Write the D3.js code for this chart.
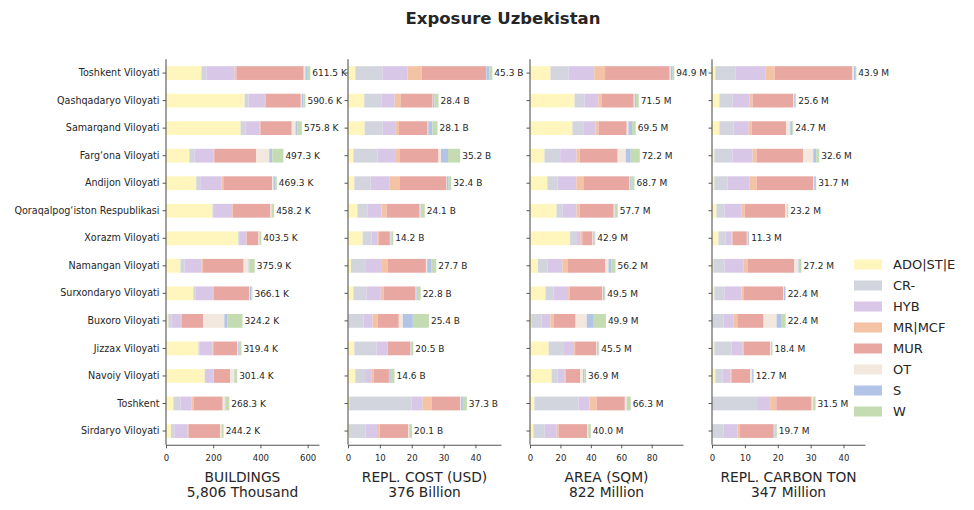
<!DOCTYPE html>
<html><head><meta charset="utf-8">
<script src="https://cdn.jsdelivr.net/npm/d3@7"></script>
<style>
body{margin:0;background:#fff;}
svg{display:block;font-family:"DejaVu Sans",sans-serif;}
</style></head><body>
<svg id="chart" width="974" height="510"></svg>
<script>
const regions = ["Toshkent Viloyati","Qashqadaryo Viloyati","Samarqand Viloyati","Farg\u2018ona Viloyati","Andijon Viloyati","Qoraqalpog\u2018iston Respublikasi","Xorazm Viloyati","Namangan Viloyati","Surxondaryo Viloyati","Buxoro Viloyati","Jizzax Viloyati","Navoiy Viloyati","Toshkent","Sirdaryo Viloyati"];
const categories = ["ADO|ST|E","CR-","HYB","MR|MCF","MUR","OT","S","W"];
const colors = ["#fff6bd","#d2d5dd","#d8c7e7","#f4c2a5","#e8a8a1","#f3e8de","#b2c5e7","#c5dbb2"];

// values per region in category order: ADO|ST|E, CR-, HYB, MR|MCF, MUR, OT, S, W
const buildingsK = [
 [150,21,120,7,285.5,7,10,11],
 [333,17,69,3,149.1,4,7,8.5],
 [316,21,60,3,132.9,16,8.5,18.4],
 [99,21,80.5,4,177.8,55,13,47],
 [128,17,91,7,206.3,6,7,7],
 [197,3,80,3,159.7,4,1.5,10],
 [306,4,30,1.5,50.5,4,1.5,6],
 [61,17,72,7,171.9,21,3,23],
 [116,8.5,74,3,150.6,3,7,4],
 [10,13,40,3,92.2,89,13,64],
 [137,4,56.5,3,101.9,4,3,10],
 [164,1.5,36,1.5,68.5,17,1.5,11.4],
 [31.5,30,47,9,122.8,9,3,16],
 [21,14,56,4,133.7,7,1.5,7]
];
const replCostB = [
 [2.3,8.5,7.9,4.4,20.2,0.1,0.95,0.95],
 [5.1,5.35,4.2,1.8,10.1,0.1,0.5,1.25],
 [5.2,5.7,3.9,1.2,9.0,0.2,1.3,1.6],
 [1.7,7.6,5.5,1.5,12.1,0.8,2.2,3.8],
 [2.0,5.1,6.0,3.2,14.6,0.1,0.6,0.8],
 [2.95,3.15,4.4,1.6,10.4,0.3,0.1,1.2],
 [4.6,2.8,1.8,0.55,3.4,0.2,0.3,0.55],
 [0.95,4.45,5.0,2.1,11.95,0.4,1.25,1.6],
 [1.7,4.1,4.5,0.85,10.1,0.2,0.2,1.15],
 [0.1,4.75,2.85,1.6,6.65,1.25,3.15,5.05],
 [2.0,7.0,3.3,0.2,7.1,0.1,0.3,0.5],
 [2.3,3.05,1.9,0.75,4.85,0.1,0.5,1.15],
 [0.4,19.55,3.45,2.85,8.95,0.2,0.65,1.25],
 [0.3,5.2,3.6,0.85,9.0,0.2,0.1,0.85]
];
const areaM = [
 [13.5,11.95,16.8,7.1,42.5,0.65,1.3,1.1],
 [29.3,6.6,9.0,2.2,21.1,0.65,0.9,1.75],
 [27.9,7.5,7.7,2.0,18.5,1.1,2.4,2.4],
 [9.5,10.35,10.8,2.0,25.0,5.3,3.3,5.95],
 [11.4,6.6,12.5,4.6,30.3,0.45,0.65,2.2],
 [17.4,3.95,9.25,2.0,22.45,0.65,0.65,1.35],
 [26.35,4.0,2.7,1.35,6.7,0.45,0.9,0.45],
 [5.25,6.15,9.9,3.3,25.0,2.0,2.0,2.6],
 [10.2,5.3,9.55,1.1,21.35,0.45,1.1,0.45],
 [0.9,6.6,5.95,2.0,14.55,7.3,4.65,7.95],
 [12.25,10.05,6.7,0.65,14.05,0.45,0.9,0.45],
 [14.2,4.0,4.65,0.65,9.4,2.0,0.9,1.1],
 [2.85,29.1,7.25,4.65,18.5,1.3,0.65,2.0],
 [2.2,7.35,8.0,1.35,18.7,0.65,0.2,1.55]
];
const carbonM = [
 [1.0,6.15,9.2,2.75,23.6,0.5,0.3,0.4],
 [2.25,4.0,5.2,0.9,12.35,0.3,0.3,0.3],
 [2.25,4.3,4.6,0.9,10.5,1.25,0.6,0.3],
 [0.7,5.5,6.15,1.25,14.15,3.05,0.9,0.9],
 [0.7,4.0,6.75,2.15,17.2,0.3,0.5,0.1],
 [1.35,2.45,5.25,0.9,12.35,0.5,0.1,0.3],
 [1.95,2.15,1.85,0.3,4.35,0.2,0.4,0.1],
 [0.4,3.4,5.85,1.25,14.15,1.25,0.4,0.5],
 [0.7,3.05,5.2,0.6,12.05,0.3,0.4,0.1],
 [0.1,3.35,3.05,1.2,8.0,3.95,1.55,1.2],
 [0.7,5.25,3.4,0.3,8.05,0.3,0.3,0.1],
 [1.0,2.15,2.5,0.3,5.65,0.6,0.3,0.2],
 [0.05,13.65,4.0,1.85,10.75,0.5,0.2,0.5],
 [0.1,3.35,4.3,0.6,10.45,0.2,0.2,0.5]
];
const panelTitles = ["BUILDINGS","REPL. COST (USD)","AREA (SQM)","REPL. CARBON TON"];
const valueSuffix = [" K"," B"," M"," M"];
const totalUnits = ["Thousand","Billion","Million","Million"];
const tickValues = [[0,200,400,600],[0,10,20,30,40],[0,20,40,60,80],[0,10,20,30,40]];
const panelData = [buildingsK, replCostB, areaM, carbonM];

const svg = d3.select("#chart");
const textColor = "#262626", spineColor = "#555";
const left0 = 166, panelStep = 182, panelW = 153, plotTop = 59.3, plotH = 385.5;

svg.append("text").attr("x", 503).attr("y", 24).attr("text-anchor","middle")
  .attr("font-size", 16.5).attr("font-weight","bold").attr("fill", textColor).text("Exposure Uzbekistan");

const y = d3.scaleBand().domain(regions).range([0, plotH]).paddingInner(0.5).paddingOuter(0.25);

panelData.forEach((rows, p) => {
  const totals = rows.map(r => d3.sum(r));
  const x = d3.scaleLinear().domain([0, d3.max(totals) * 1.06]).range([0, panelW]);
  const g = svg.append("g").attr("transform", `translate(${left0 + p*panelStep},${plotTop})`);

  const stacked = rows.map((r, i) => {
    let acc = 0;
    return r.map((v, c) => { const s = {region: regions[i], c, x0: acc, x1: acc + v}; acc += v; return s; });
  }).flat();

  g.selectAll("rect.seg").data(stacked).enter().append("rect")
    .attr("x", d => x(d.x0)).attr("width", d => Math.max(0, x(d.x1) - x(d.x0)))
    .attr("y", d => y(d.region)).attr("height", y.bandwidth())
    .attr("fill", d => colors[d.c]);

  g.selectAll("text.val").data(totals).enter().append("text")
    .attr("x", d => x(d) + 2).attr("y", (d, i) => y(regions[i]) + y.bandwidth()/2)
    .attr("dy", "0.35em").attr("font-size", 9).attr("fill", textColor)
    .text(d => d.toFixed(1) + valueSuffix[p]);

  const yAxis = g.append("g").call(d3.axisLeft(y).tickSize(3.5).tickPadding(3).tickFormat(p === 0 ? null : ""));
  const xAxis = g.append("g").attr("transform", `translate(0,${plotH})`)
    .call(d3.axisBottom(x).tickValues(tickValues[p]).tickSize(3.5).tickPadding(7).tickSizeOuter(0));
  [yAxis, xAxis].forEach(a => {
    a.select(".domain").attr("stroke", spineColor).attr("stroke-width", 1.1);
    a.selectAll(".tick line").attr("stroke", spineColor);
    a.selectAll(".tick text").attr("fill", textColor).attr("font-family", "DejaVu Sans").attr("font-size", p === 0 && a === yAxis ? 9.6 : 8.5);
  });
  yAxis.select(".domain").attr("d", `M0,0V${plotH}`);

  const grand = d3.sum(totals);
  g.append("text").attr("x", panelW/2).attr("y", plotH + 37).attr("text-anchor","middle")
    .attr("font-size", 13.8).attr("fill", textColor).text(panelTitles[p]);
  g.append("text").attr("x", panelW/2).attr("y", plotH + 52).attr("text-anchor","middle")
    .attr("font-size", 13.8).attr("fill", textColor).text(d3.format(",.0f")(grand) + " " + totalUnits[p]);
});

const legend = svg.append("g").attr("transform", "translate(854,264.5)");
categories.forEach((c, i) => {
  const row = legend.append("g").attr("transform", `translate(0,${i*21})`);
  row.append("rect").attr("x", 0).attr("y", -5).attr("width", 28).attr("height", 10).attr("fill", colors[i]);
  row.append("text").attr("x", 39).attr("y", 0).attr("dy","0.35em").attr("font-size", 13).attr("fill", textColor).text(c);
});
</script>
</body></html>
